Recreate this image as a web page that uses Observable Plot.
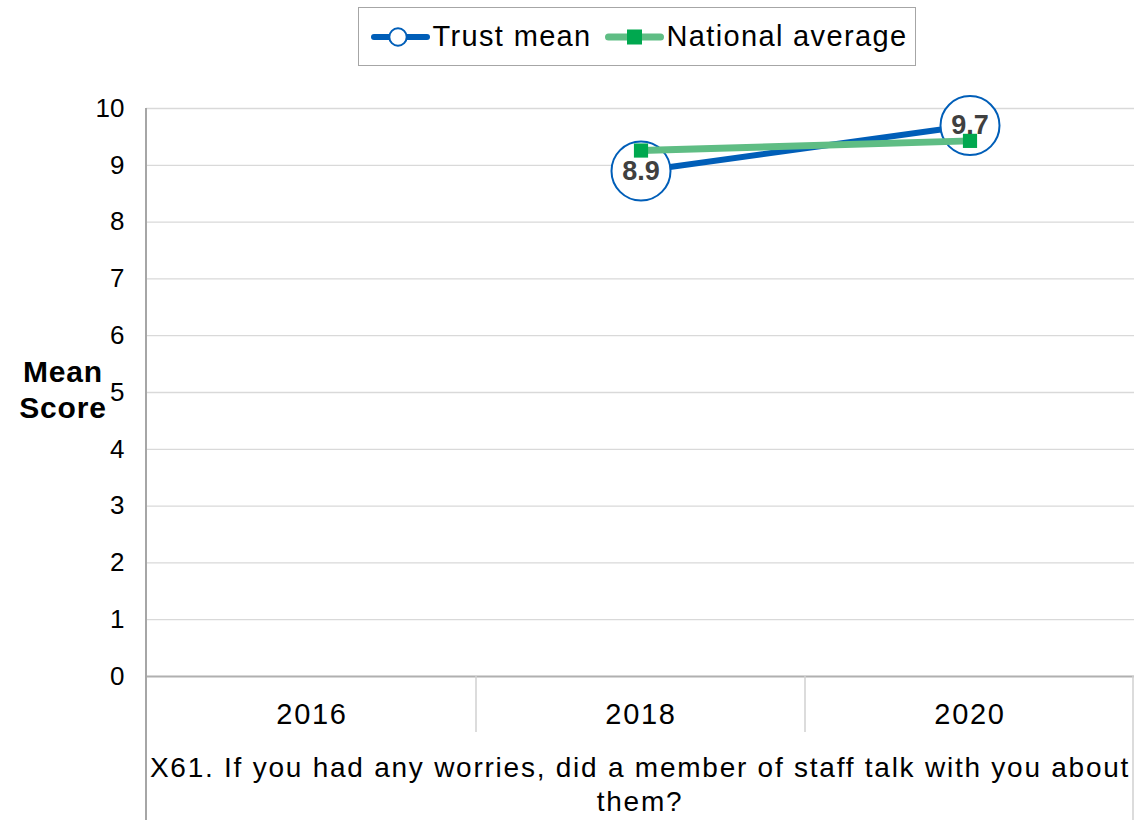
<!DOCTYPE html>
<html><head><meta charset="utf-8">
<script src="https://cdn.jsdelivr.net/npm/d3@7"></script>
<script src="https://cdn.jsdelivr.net/npm/@observablehq/plot@0.6"></script>
<style>
html,body{margin:0;padding:0;background:#fff;}
body{width:1134px;height:820px;overflow:hidden;position:relative;font-family:"Liberation Sans",Arial,sans-serif;color:#000;}
#legend{position:absolute;left:358px;top:7px;width:556px;height:57px;border:1.5px solid #a6a6a6;box-sizing:content-box;font-size:29px;letter-spacing:1.35px;white-space:nowrap;}
#legend > *{position:absolute;}
#legend span{top:0;line-height:57px;}
#chart{position:absolute;left:0;top:72px;}
#ylabel{position:absolute;left:0;width:126px;top:354px;text-align:center;font-weight:bold;font-size:30px;letter-spacing:0.8px;line-height:36px;}
#question{position:absolute;left:140px;width:1000px;top:751px;text-align:center;font-size:28px;letter-spacing:1.76px;line-height:34px;}
</style>
</head><body>
<div id="legend"></div>
<div id="chart"></div>
<div id="ylabel">Mean<br>Score</div>
<div id="question"></div>
<script>
// ---- data ----
const years = ["2016", "2018", "2020"];
const trustMean = [null, 8.9, 9.7];
const nationalAverage = [null, 9.26, 9.43];
const yTicks = [0, 1, 2, 3, 4, 5, 6, 7, 8, 9, 10];
const seriesNames = ["Trust mean", "National average"];
const questionText = "X61. If you had any worries, did a member of staff talk with you about them?";

const trustColor = "#005EB8";
const natLineColor = "#5FBD84";
const natMarkColor = "#00A84F";

const trust = years.map((y, i) => ({year: y, value: trustMean[i]})).filter(d => d.value != null);
const national = years.map((y, i) => ({year: y, value: nationalAverage[i]})).filter(d => d.value != null);

// ---- legend ----
const legend = document.getElementById("legend");
legend.innerHTML = `
  <svg width="62" height="24" style="left:11.5px;top:16.5px"><line x1="3" x2="56" y1="12" y2="12" stroke="${trustColor}" stroke-width="6" stroke-linecap="round"/><circle cx="27" cy="12" r="8.7" fill="white" stroke="${trustColor}" stroke-width="2"/></svg>
  <span style="left:73.5px">${seriesNames[0]}</span>
  <svg width="62" height="24" style="left:245.5px;top:16.5px"><line x1="3.5" x2="55.5" y1="12" y2="12" stroke="${natLineColor}" stroke-width="7" stroke-linecap="round"/><rect x="22" y="4.5" width="15" height="15" fill="${natMarkColor}"/></svg>
  <span style="left:307.5px">${seriesNames[1]}</span>`;

document.getElementById("question").textContent = questionText;

// ---- chart ----
const H = 748;
const frameMark = (index, scales, values, dimensions) => {
  const {x, y} = scales;
  const g = d3.create("svg:g");
  const bottom = y(0);
  // left border running down through the category area
  g.append("line").attr("x1", dimensions.marginLeft).attr("x2", dimensions.marginLeft)
    .attr("y1", y(10)).attr("y2", dimensions.height)
    .attr("stroke", "#a6a6a6").attr("stroke-width", 2);
  // right border of the category table
  g.append("line").attr("x1", dimensions.width - 1).attr("x2", dimensions.width - 1)
    .attr("y1", bottom).attr("y2", dimensions.height)
    .attr("stroke", "#d0d0d0").attr("stroke-width", 1.5);
  // dividers between categories
  years.slice(1).forEach(yr => {
    g.append("line").attr("x1", x(yr)).attr("x2", x(yr))
      .attr("y1", bottom).attr("y2", bottom + 56)
      .attr("stroke", "#d0d0d0").attr("stroke-width", 1.5);
  });
  return g.node();
};

const chart = Plot.plot({
  width: 1134,
  height: H,
  marginTop: 36,
  marginBottom: 144,
  marginLeft: 146,
  marginRight: 0,
  style: {fontFamily: "Liberation Sans, Arial, sans-serif", fontSize: "26px", color: "#000", background: "transparent", overflow: "visible"},
  x: {type: "band", domain: years, padding: 0, label: null, tickSize: 0, tickPadding: 27},
  y: {domain: [0, 10], ticks: yTicks, label: null, tickSize: 0, tickPadding: 22, tickFormat: d => String(d)},
  marks: [
    Plot.ruleY(yTicks.filter(t => t > 0), {stroke: "#d9d9d9", strokeWidth: 1.3}),
    Plot.ruleY([0], {stroke: "#b0b0b0", strokeWidth: 2}),
    frameMark,
    Plot.line(trust, {x: "year", y: "value", stroke: trustColor, strokeWidth: 6}),
    Plot.dot(trust, {x: "year", y: "value", r: 29.5, fill: "white", stroke: trustColor, strokeWidth: 2}),
    Plot.line(national, {x: "year", y: "value", stroke: natLineColor, strokeWidth: 7}),
    Plot.dot(national, {x: "year", y: "value", symbol: "square", r: 8, fill: natMarkColor, stroke: "none"}),
    Plot.text(trust, {x: "year", y: "value", text: d => d.value.toFixed(1), fontWeight: "bold", fill: "#404040", fontSize: 27})
  ]
});
chart.querySelectorAll('[aria-label="x-axis tick label"]').forEach(n => {
  n.setAttribute("font-size", "29");
  n.style.letterSpacing = "1.7px";
});
document.getElementById("chart").appendChild(chart);
</script>
</body></html>
